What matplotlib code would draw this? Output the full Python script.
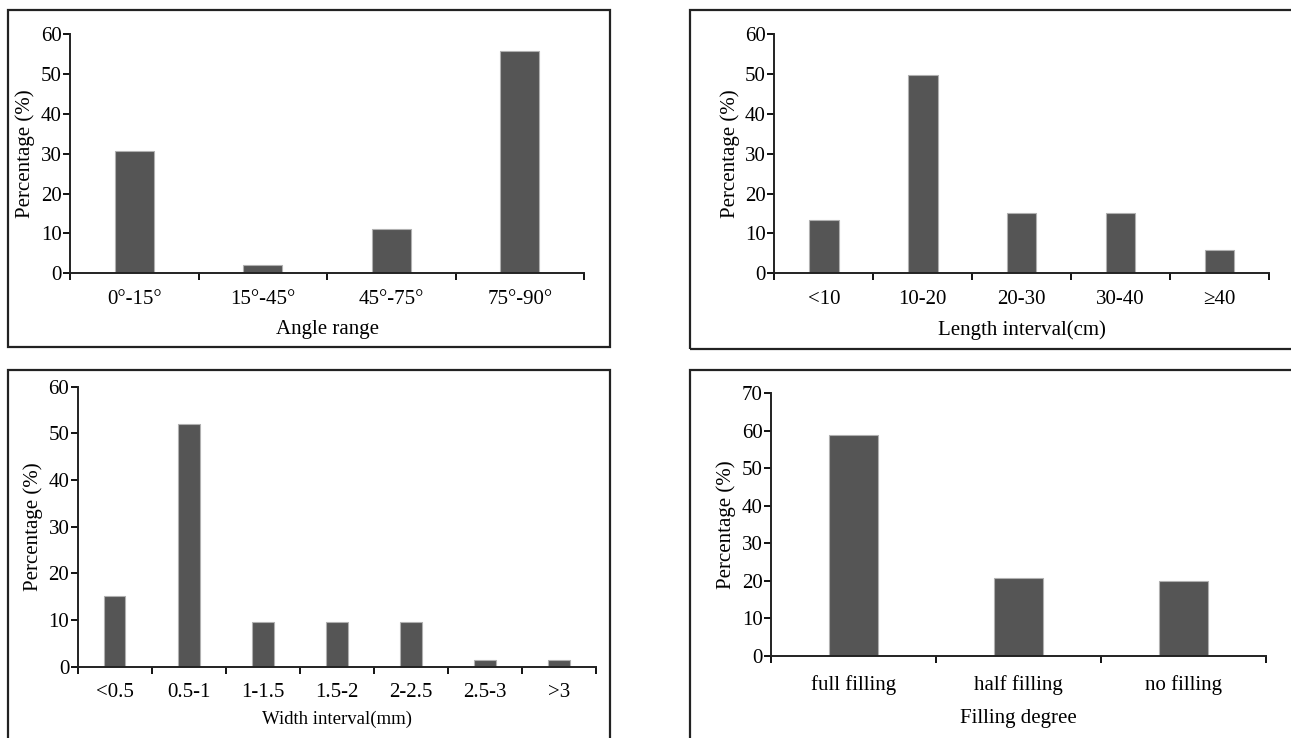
import matplotlib
matplotlib.use('Agg')
import matplotlib.pyplot as plt
from matplotlib.patches import Rectangle

plt.rcParams['font.family'] = ['Liberation Serif', 'DejaVu Serif']

# data
angle_labels = ['0°-15°', '15°-45°', '45°-75°', '75°-90°']
angle_values = [30.8, 2.0, 11.2, 55.8]

length_labels = ['<10', '10-20', '20-30', '30-40', '≥40']
length_values = [13.5, 49.8, 15.2, 15.2, 5.8]

width_labels = ['<0.5', '0.5-1', '1-1.5', '1.5-2', '2-2.5', '2.5-3', '>3']
width_values = [15.2, 52.0, 9.6, 9.6, 9.6, 1.5, 1.5]

fill_labels = ['full filling', 'half filling', 'no filling']
fill_values = [58.8, 20.8, 20.0]

W, H = 1291, 738
fig = plt.figure(figsize=(W / 100, H / 100), dpi=100)
fig.patch.set_facecolor('white')


def px_axes(x0, x1, ytop, y0):
    return fig.add_axes([x0 / W, 1 - y0 / H, (x1 - x0) / W, (y0 - ytop) / H])


def frame(x0, y0, x1, y1):
    fig.patches.append(Rectangle((x0 / W, 1 - y1 / H), (x1 - x0) / W, (y1 - y0) / H,
                                 transform=fig.transFigure, fill=False,
                                 edgecolor='#222222', linewidth=1.6, clip_on=False))


def panel(ax, labels, values, ymax, xlabel, fs=15, xfs=15, barw=0.3,
          tickpad=12, xlabelpad=8):
    n = len(labels)
    pos = [i + 0.5 for i in range(n)]
    ax.bar(pos, values, width=barw, color='#555555', edgecolor='#b0b0b0', linewidth=0.8)
    ax.set_xlim(0, n)
    ax.set_ylim(0, ymax)
    ax.set_yticks(range(0, ymax + 1, 10))
    # ticks at the category boundaries, labels in between
    ax.set_xticks(range(n + 1))
    ax.set_xticklabels([])
    ax.set_xticks(pos, minor=True)
    ax.set_xticklabels(labels, minor=True, fontsize=fs)
    ax.tick_params(axis='x', which='major', direction='out', length=5, width=1.3)
    ax.tick_params(axis='x', which='minor', length=0, pad=tickpad)
    ax.tick_params(axis='y', direction='out', length=5, width=1.3, pad=1, labelsize=fs)
    for s in ['top', 'right']:
        ax.spines[s].set_visible(False)
    for s in ['left', 'bottom']:
        ax.spines[s].set_linewidth(1.4)
        ax.spines[s].set_color('#222222')
    ax.set_ylabel('Percentage (%)', fontsize=fs, labelpad=4)
    ax.set_xlabel(xlabel, fontsize=xfs, labelpad=xlabelpad)
    ax.set_facecolor('none')


# panel frames
frame(8, 9.5, 610, 347.5)
frame(689.5, 10, 1300, 349)
frame(8, 370, 610, 750)
frame(689.5, 370, 1300, 750)

ax1 = px_axes(70, 584, 34.3, 273.3)
panel(ax1, angle_labels, angle_values, 60, 'Angle range')

ax2 = px_axes(774.3, 1269, 34.3, 273.3)
panel(ax2, length_labels, length_values, 60, 'Length interval(cm)')

ax3 = px_axes(77.7, 596, 386.7, 666.7)
panel(ax3, width_labels, width_values, 60, 'Width interval(mm)', xfs=13.5, barw=0.29,
      tickpad=12, xlabelpad=6)

ax4 = px_axes(771, 1266, 393.3, 655.7)
panel(ax4, fill_labels, fill_values, 70, 'Filling degree', tickpad=14, xlabelpad=10)

fig.savefig('out.png', dpi=100)
